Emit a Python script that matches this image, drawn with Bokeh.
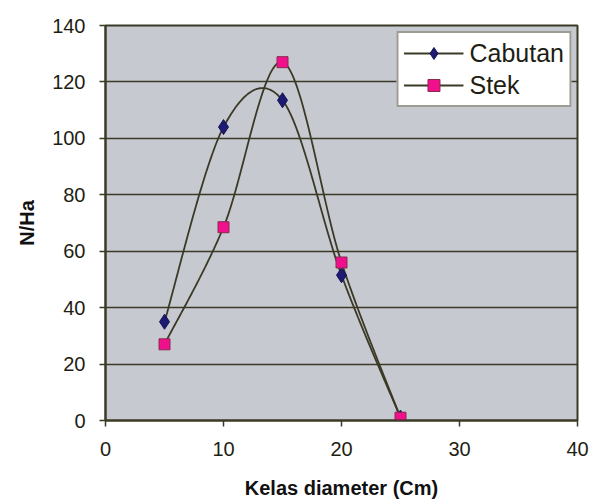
import numpy as np
from bokeh.plotting import figure
from bokeh.models import Legend, LegendItem, FixedTicker
from bokeh.embed import file_html
from bokeh.resources import INLINE

# --- data ---
diameter = [5, 10, 15, 20, 25]
cabutan = [35, 104, 113.5, 51.5, 1]
stek = [27, 68.5, 127, 56, 1]
x_ticks = [0, 10, 20, 30, 40]
y_ticks = [0, 20, 40, 60, 80, 100, 120, 140]
series_names = ["Cabutan", "Stek"]

DARK = "#3b3a26"
BG = "#c7c9d0"
FONT = "Liberation Sans"


def smooth(xs, ys, n=40):
    """Excel-like smoothed line: cubic Bezier segments with Catmull-Rom control points."""
    pts = np.column_stack([xs, ys]).astype(float)
    m = len(pts)
    out = []
    for i in range(m - 1):
        p0 = pts[i - 1] if i > 0 else pts[i]
        p1 = pts[i]
        p2 = pts[i + 1]
        p3 = pts[i + 2] if i + 2 < m else pts[i + 1]
        c1 = p1 + (p2 - p0) / 6.0
        c2 = p2 - (p3 - p1) / 6.0
        t = np.linspace(0, 1, n)[:, None]
        seg = ((1 - t) ** 3) * p1 + 3 * ((1 - t) ** 2) * t * c1 + 3 * (1 - t) * t ** 2 * c2 + t ** 3 * p2
        out.append(seg if i == 0 else seg[1:])
    arr = np.vstack(out)
    return arr[:, 0], arr[:, 1]


p = figure(width=590, height=501, x_range=(0, 40), y_range=(0, 140),
           output_backend="svg", toolbar_location=None,
           min_border_left=105, min_border_right=13,
           min_border_top=25, min_border_bottom=81)
p.background_fill_color = BG
p.border_fill_color = "white"
p.outline_line_color = DARK
p.outline_line_width = 2

p.xgrid.grid_line_color = None
p.ygrid.grid_line_color = DARK
p.ygrid.grid_line_width = 1.5
p.xaxis.ticker = FixedTicker(ticks=x_ticks)
p.yaxis.ticker = FixedTicker(ticks=y_ticks)

for ax in (p.xaxis, p.yaxis):
    ax.axis_line_color = DARK
    ax.axis_line_width = 2
    ax.major_tick_line_color = DARK
    ax.major_tick_line_width = 1.5
    ax.major_tick_in = 0
    ax.major_tick_out = 6
    ax.minor_tick_line_color = None
    ax.major_label_text_font = FONT
    ax.major_label_text_font_size = "20px"
    ax.major_label_text_color = "#1e1e14"
    ax.axis_label_text_font = FONT
    ax.axis_label_text_font_style = "bold"
    ax.axis_label_text_font_size = "20px"
    ax.axis_label_text_color = "#111"

p.yaxis.major_label_standoff = 14
p.xaxis.major_label_standoff = 15
p.xaxis.axis_label = "Kelas diameter (Cm)"
p.yaxis.axis_label = "N/Ha"
p.xaxis.axis_label_standoff = 18
p.yaxis.axis_label_standoff = 11

cx, cy = smooth(diameter, cabutan)
sx, sy = smooth(diameter, stek)

l1 = p.line(cx, cy, line_color=DARK, line_width=1.8)
l2 = p.line(sx, sy, line_color=DARK, line_width=1.8)
m1 = p.scatter(diameter, cabutan, marker="diamond", size=15,
               fill_color="#1c1a72", line_color="#14124f", line_width=1)
m2 = p.scatter(diameter, stek, marker="square", size=11,
               fill_color="#f0108c", line_color="#8a2a50", line_width=1)

legend = Legend(items=[LegendItem(label=series_names[0], renderers=[l1, m1]),
                       LegendItem(label=series_names[1], renderers=[l2, m2])],
                location="top_right")
legend.margin = 6
legend.padding = 5
legend.spacing = 2
legend.glyph_width = 60
legend.glyph_height = 30
legend.label_standoff = 6
legend.label_text_font = FONT
legend.label_text_font_size = "25px"
legend.label_text_color = "#1e1e14"
legend.border_line_color = DARK
legend.border_line_width = 2.5
legend.background_fill_color = "white"
legend.background_fill_alpha = 1
p.add_layout(legend)

open("out.html", "w").write(file_html(p, INLINE))
